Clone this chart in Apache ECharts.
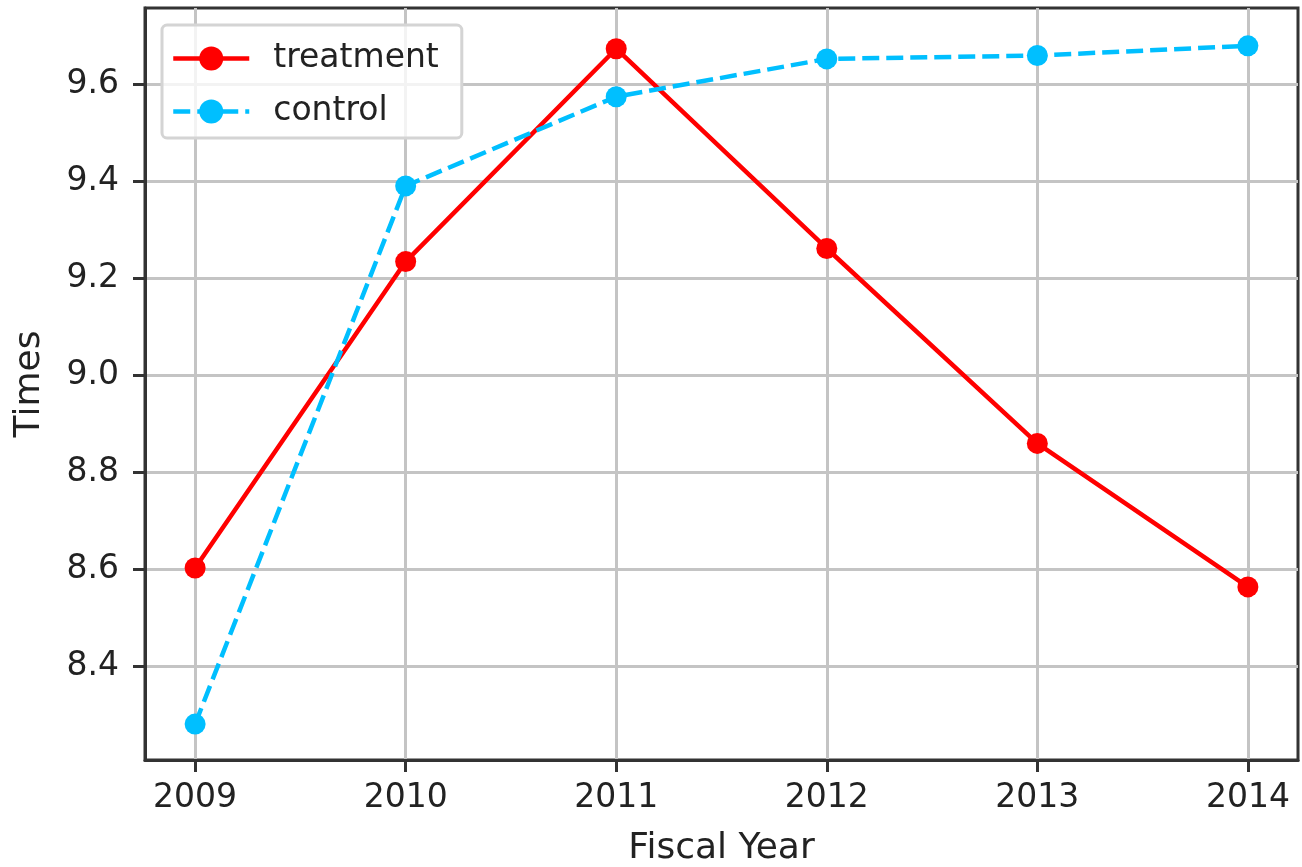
<!DOCTYPE html>
<html>
<head>
<meta charset="utf-8">
<title>Times by fiscal year</title>
<script src="https://cdn.jsdelivr.net/npm/echarts@6/dist/echarts.min.js"></script>
<style>
  html, body { margin: 0; padding: 0; background: #fff; }
  #chart { width: 1302px; height: 867px; }
</style>
</head>
<body>
<div id="chart"></div>
<script>
// values
var years = [2009, 2010, 2011, 2012, 2013, 2014];
var treatment = [8.603, 9.235, 9.674, 9.262, 8.86, 8.564];
var control = [8.281, 9.391, 9.575, 9.653, 9.66, 9.68];
var yTicks = [8.4, 8.6, 8.8, 9.0, 9.2, 9.4, 9.6];

var font = "DejaVu Sans";
var chart = echarts.init(document.getElementById("chart"));

function pairs(ys) {
  return years.map(function (x, i) { return [x, ys[i]]; });
}

chart.setOption({
  animation: false,
  textStyle: { fontFamily: font },
  grid: {
    left: 145, right: 4, top: 8, bottom: 107,
    outerBoundsMode: "none",
    show: true, borderColor: "#333", borderWidth: 3
  },
  legend: {
    left: 162, top: 25,
    orient: "vertical",
    padding: [17, 23, 10, 9],
    itemWidth: 76, itemHeight: 30, itemGap: 20,
    backgroundColor: "rgba(255,255,255,0.8)",
    borderColor: "#d4d4d4", borderWidth: 3, borderRadius: 5,
    lineStyle: { width: 4.5 },
    textStyle: { fontFamily: font, fontSize: 33, color: "#222", padding: [0, 0, 0, 19] },
    data: ["treatment", "control"]
  },
  xAxis: {
    type: "value",
    min: 2008.762, max: 2014.238,
    name: "Fiscal Year", nameLocation: "middle", nameGap: 71,
    nameTextStyle: { fontFamily: font, fontSize: 36, color: "#222" },
    axisLine: { lineStyle: { color: "#333", width: 3 } },
    axisTick: { show: true, length: 12, lineStyle: { color: "#333", width: 3 }, customValues: years },
    axisLabel: { customValues: years, margin: 22, fontFamily: font, fontSize: 33, color: "#222",
      formatter: function (v) { return String(v); } },
    splitLine: { show: true, lineStyle: { color: "#c4c4c4", width: 3 } }
  },
  yAxis: {
    type: "value",
    min: 8.207, max: 9.758,
    name: "Times", nameLocation: "middle", nameGap: 97,
    nameTextStyle: { fontFamily: font, fontSize: 36, color: "#222" },
    axisLine: { show: true, lineStyle: { color: "#333", width: 3 } },
    axisTick: { show: true, length: 12, lineStyle: { color: "#333", width: 3 }, customValues: yTicks },
    axisLabel: { customValues: yTicks, margin: 26, fontFamily: font, fontSize: 33, color: "#222",
      formatter: function (v) { return v.toFixed(1); } },
    splitLine: { show: true, lineStyle: { color: "#c4c4c4", width: 3 } }
  },
  series: [
    {
      name: "treatment", type: "line", data: pairs(treatment),
      symbol: "circle", symbolSize: 21,
      lineStyle: { color: "#ff0000", width: 4.5 },
      itemStyle: { color: "#ff0000" }
    },
    {
      name: "control", type: "line", data: pairs(control),
      symbol: "circle", symbolSize: 21,
      lineStyle: { color: "#00bfff", width: 4.5, type: [17, 7] },
      itemStyle: { color: "#00bfff" }
    }
  ]
});
</script>
</body>
</html>
